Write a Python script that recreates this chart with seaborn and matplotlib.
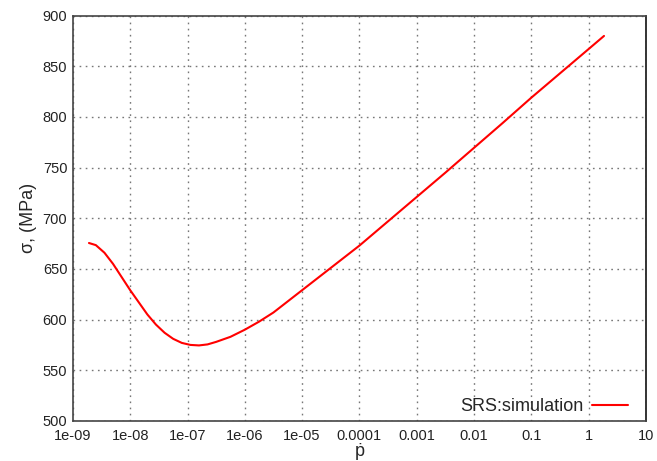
import numpy as np
import pandas as pd
import matplotlib
matplotlib.use("Agg")
import matplotlib.pyplot as plt
import seaborn as sns

# Strain rate sensitivity: flow stress vs. plastic strain rate
log_rate = [-8.72, -8.6, -8.45, -8.3, -8.15, -8.0, -7.85, -7.7, -7.55, -7.4,
            -7.25, -7.1, -6.95, -6.8, -6.65, -6.5, -6.25, -6.0, -5.75, -5.5,
            -5.25, -5.0, -4.5, -4.0, -3.5, -3.0, -2.5, -2.0, -1.5, -1.0,
            -0.5, 0.0, 0.27]
stress = [675.6, 673.5, 666, 655, 642, 629, 617, 605, 595, 587,
          581, 577, 575, 574.5, 575.5, 578, 583, 590, 598, 607,
          618, 629, 651, 673, 697, 721, 745, 769.5, 794, 819,
          843, 867, 880]

x_ticks = [1e-9, 1e-8, 1e-7, 1e-6, 1e-5, 1e-4, 1e-3, 1e-2, 1e-1, 1, 10]
x_tick_labels = ["1e-09", "1e-08", "1e-07", "1e-06", "1e-05", "0.0001",
                 "0.001", "0.01", "0.1", "1", "10"]
y_ticks = [500, 550, 600, 650, 700, 750, 800, 850, 900]

df = pd.DataFrame({"rate": 10.0 ** np.array(log_rate), "stress": stress})

sns.set_style("white")
plt.rcParams["font.family"] = ["Liberation Sans", "DejaVu Sans"]

fig = plt.figure(figsize=(6.57, 4.61), dpi=100)
ax = fig.add_axes([0.111, 0.087, 0.872, 0.879])

sns.lineplot(data=df, x="rate", y="stress", color="#ff0000", linewidth=1.5,
             label="SRS:simulation", ax=ax, sort=False)

ax.set_xscale("log")
ax.set_xlim(1e-9, 10)
ax.set_ylim(500, 900)
ax.set_xticks(x_ticks)
ax.set_xticklabels(x_tick_labels)
ax.set_yticks(y_ticks)
ax.minorticks_off()
ax.tick_params(axis="both", direction="in", length=5, width=1, labelsize=10.5,
               colors="#222222", pad=4)
ax.tick_params(axis="x", pad=6)

ax.grid(True, color="#777777", linestyle=(0, (1.2, 3.2)), linewidth=1)
for side in ["left", "bottom", "top", "right"]:
    ax.spines[side].set_color("#444444")
    ax.spines[side].set_linewidth(1.2)
ax.spines["right"].set_color("#111111")

ax.set_xlabel("ṗ", fontsize=13, labelpad=0)
ax.set_ylabel("σ, (MPa)", fontsize=13, labelpad=4)

leg = ax.legend(loc="lower right", frameon=False, markerfirst=False,
                fontsize=13, handlelength=2.0, handletextpad=0.45,
                borderaxespad=0.0, borderpad=0.3,
                bbox_to_anchor=(0.978, 0.0))

fig.savefig("out.png", dpi=100)
